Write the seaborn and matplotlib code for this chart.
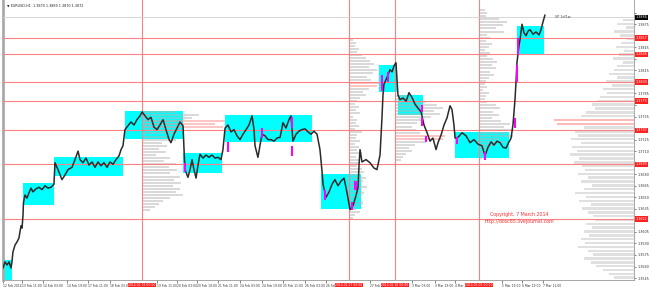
import matplotlib
matplotlib.use("Agg")
import matplotlib.pyplot as plt
import seaborn as sns
import numpy as np
import pandas as pd

# ---------------- data ----------------
hours = [0, 1.4, 2.9, 4.3, 5.7, 6.4, 7.1, 8.6, 10, 11.4, 12.1, 12.9, 13.6, 14.3, 14.6, 15.7, 17.1, 18.6, 20, 21.4,
         23.6, 25.7, 27.9, 30, 32.1, 34.3, 36.4, 37.1, 39.3, 42.1, 44.3, 46.4, 49.3, 51.4, 53.6, 55, 57.1, 59.3, 61.4, 63.6,
         65.7, 67.9, 70, 72.1, 74.3, 76.4, 78.6, 80.7, 82.9, 84.3, 85.7, 87.1, 89.3, 91.4, 93.6, 95.7, 97.9, 99.3, 101.4, 103.6,
         105.7, 107.9, 110, 112.1, 114.3, 116.4, 118.6, 120, 122.1, 124.3, 126.4, 128.6, 129.3, 130, 132.1, 133.6, 135, 136.4, 137.9, 139.3,
         140.7, 142.9, 145, 147.1, 149.3, 151.4, 153.6, 155.7, 157.1, 158.6, 160.7, 162.9, 165, 167.1, 169.3, 171.4, 173.6, 175.7, 177.9, 179.3,
         180, 182.1, 183.6, 185, 187.1, 189.3, 191.4, 193.6, 195.7, 197.9, 200, 202.1, 204.3, 205.7, 207.1, 209.3, 211.4, 213.6, 215.7, 217.9,
         220, 222.1, 224.3, 226.4, 227.9, 228.6, 230.7, 232.9, 235, 237.1, 239.3, 241.4, 243.6, 245.7, 247.9, 250, 252.1, 253.6, 254.3, 255,
         256.4, 259.3, 262.1, 265, 267.1, 269.3, 270.7, 271.4, 272.1, 273.6, 275, 276.4, 277.9, 279.3, 280.7, 281.4, 282.1, 283.6, 285.7, 287.9,
         290, 292.1, 294.3, 296.4, 298.6, 300.7, 302.9, 305, 307.1, 309.3, 310.7, 312.9, 315, 317.1, 319.3, 320.7, 322.1, 322.9, 325, 327.9,
         330.7, 333.6, 336.4, 339.3, 342.1, 344.3, 346.4, 348.6, 350.7, 352.9, 355, 357.1, 359.3, 361.4, 362.9, 364.3, 365.7, 366.4, 367.1, 368.6,
         369.3, 370.7, 372.1, 373.6, 375, 376.4, 378.6, 380.7, 382.9, 384.3, 385.7, 387.1]
prices = [1.3558, 1.3566, 1.3562, 1.3566, 1.3558, 1.3566, 1.3579, 1.3588, 1.3592, 1.3597, 1.3605, 1.3613, 1.3610, 1.3627, 1.3643, 1.3653, 1.3649, 1.3656, 1.3662, 1.3657,
          1.3661, 1.3663, 1.3660, 1.3665, 1.3662, 1.3663, 1.3667, 1.3695, 1.3686, 1.3673, 1.3679, 1.3686, 1.3689, 1.3699, 1.3710, 1.3699, 1.3695, 1.3701, 1.3692, 1.3696,
          1.3689, 1.3696, 1.3691, 1.3695, 1.3689, 1.3696, 1.3693, 1.3699, 1.3704, 1.3712, 1.3717, 1.3738, 1.3743, 1.3748, 1.3744, 1.3751, 1.3756, 1.3761, 1.3756, 1.3751,
          1.3754, 1.3741, 1.3738, 1.3744, 1.3751, 1.3738, 1.3725, 1.3721, 1.3732, 1.3740, 1.3748, 1.3743, 1.3712, 1.3686, 1.3676, 1.3686, 1.3699, 1.3686, 1.3675, 1.3692,
          1.3706, 1.3701, 1.3705, 1.3702, 1.3705, 1.3701, 1.3702, 1.3699, 1.3712, 1.3740, 1.3744, 1.3735, 1.3738, 1.3730, 1.3725, 1.3732, 1.3738, 1.3744, 1.3756, 1.3738,
          1.3717, 1.3702, 1.3718, 1.3732, 1.3730, 1.3725, 1.3725, 1.3723, 1.3727, 1.3728, 1.3747, 1.3740, 1.3751, 1.3756, 1.3723, 1.3732, 1.3736, 1.3738, 1.3739, 1.3735,
          1.3732, 1.3736, 1.3732, 1.3712, 1.3683, 1.3667, 1.3650, 1.3657, 1.3667, 1.3673, 1.3665, 1.3671, 1.3675, 1.3656, 1.3634, 1.3639, 1.3652, 1.3663, 1.3692, 1.3712,
          1.3696, 1.3699, 1.3695, 1.3688, 1.3686, 1.3705, 1.3754, 1.3783, 1.3797, 1.3803, 1.3809, 1.3816, 1.3813, 1.3821, 1.3825, 1.3803, 1.3783, 1.3777, 1.3779, 1.3775,
          1.3786, 1.3780, 1.3771, 1.3766, 1.3761, 1.3744, 1.3734, 1.3723, 1.3727, 1.3712, 1.3721, 1.3731, 1.3744, 1.3753, 1.3769, 1.3764, 1.3744, 1.3727, 1.3728, 1.3734,
          1.3730, 1.3721, 1.3725, 1.3719, 1.3717, 1.3704, 1.3715, 1.3722, 1.3718, 1.3723, 1.3721, 1.3715, 1.3714, 1.3722, 1.3727, 1.3745, 1.3777, 1.3799, 1.3825, 1.3848,
          1.3855, 1.3875, 1.3864, 1.3860, 1.3866, 1.3868, 1.3862, 1.3865, 1.3861, 1.3868, 1.3878, 1.3887]

# cyan zones: start hour, end hour, low price, high price
zone_start = [0, 14.3, 36.4, 87.1, 128.6, 158.6, 227.1, 268.6, 282.1, 322.9, 367.1]
zone_end = [6.4, 36.4, 85.7, 128.6, 156.4, 220.7, 255.7, 281.4, 300.0, 361.4, 386.4]
zone_low = [1.3542, 1.3640, 1.3678, 1.3726, 1.3682, 1.3722, 1.3635, 1.3787, 1.3757, 1.3701, 1.3836]
zone_high = [1.3568, 1.3669, 1.3702, 1.3762, 1.3708, 1.3757, 1.3680, 1.3822, 1.3783, 1.3735, 1.3873]

# magenta highlighted candles: hour, low, high
mag_hour = [130, 160.7, 185, 206.4, 206.4, 230, 252, 249.3, 270.7, 275, 299.3, 299.3, 302.1, 324.3, 344.3, 365.7, 367.1, 367.9]
mag_low = [1.3683, 1.3709, 1.3727, 1.3740, 1.3704, 1.3647, 1.3660, 1.3634, 1.3788, 1.3800, 1.3761, 1.3743, 1.3722, 1.3719, 1.3698, 1.3740, 1.3800, 1.3835]
mag_high = [1.3695, 1.3722, 1.3740, 1.3754, 1.3717, 1.3660, 1.3671, 1.3644, 1.3809, 1.3813, 1.3770, 1.3753, 1.3730, 1.3728, 1.3709, 1.3753, 1.3822, 1.3857]

# horizontal levels and vertical session lines
level_prices = [1.3857, 1.3836, 1.3800, 1.3775, 1.3737, 1.3693, 1.3622]
vline_hours = [99.3, 247.1, 280, 340]
vline_labels = ["2014.02.19 00:00", "2014.02.27 00:00", "2014.02.28 00:00", "2014.03.05 00:00"]

# volume profiles (anchor hour, top price, lengths in hours, red indices)
profA_lengths = [25, 41, 36, 59, 52, 58, 30, 26, 20, 24, 14, 18, 12, 17, 10, 20, 16, 24, 19, 25, 20, 27, 23, 28, 22, 27, 24, 29, 20, 15, 12, 9, 6]
profC_lengths = [3, 5, 4, 7, 6, 9, 12, 15, 18, 14, 20, 17, 13, 16, 22, 20, 14, 10, 12, 8,
                 6, 4, 7, 5, 8, 3, 6, 5, 7, 4, 9, 6, 5, 8, 4, 7, 6, 9, 5, 7, 8, 6,
                 9, 11, 8, 12, 10, 7, 13, 9, 11, 8, 6, 10, 7, 5, 8, 4, 3]
profD_lengths = [8, 14, 22, 30, 34, 28, 32, 26, 20, 16, 12, 15, 18, 36, 34, 22, 14, 10, 12, 8, 6, 4]
profE_lengths = [4, 6, 5, 14, 20, 17, 12, 18, 6, 8, 5, 9, 7, 4, 8, 6, 10, 13, 9, 12, 8, 11, 7, 5, 4, 6, 3, 7, 5, 4, 6,
                 12, 15, 10, 14, 9, 16, 22, 18, 25, 20, 24, 15, 19, 12, 8, 5, 3, 2]
profF_lengths = [8, 12, 6, 14, 10, 5, 9, 13, 7, 11, 15, 8, 12, 14, 18, 12, 20, 16, 22, 19, 24,
                 26, 30, 28, 34, 38, 57, 55, 36, 42, 40, 45, 38, 44, 41, 46, 39, 43, 37,
                 35, 40, 33, 38, 30, 36, 42, 34, 39, 31, 37, 33, 29,
                 28, 34, 30, 36, 32, 38, 35, 40, 33, 29, 36, 31, 27, 22, 18, 14]
profiles = [  # anchor, top, step, lengths, red idx
    (99.3, 1.3761, 0.0004, profA_lengths, [3, 4, 5]),
    (247.1, 1.3855, 0.0004, profC_lengths, [14, 15]),
    (280.0, 1.3782, 0.0004, profD_lengths, [13, 14]),
    (340.0, 1.38935, 0.0004, profE_lengths, []),
]
profF = (1.38805, 0.0005, profF_lengths, [26, 27])

ytick_vals = [1.3545, 1.3560, 1.3575, 1.3590, 1.3605, 1.3620, 1.3635, 1.3650, 1.3665, 1.3680, 1.3695, 1.3710,
              1.3725, 1.3740, 1.3755, 1.3770, 1.3785, 1.3800, 1.3815, 1.3830, 1.3845, 1.3860, 1.3875, 1.3890]
xtick_hours = [0, 13.6, 28.6, 45.7, 60.7, 76.4, 110, 124.3, 138.6, 153.6, 169.3, 185, 200, 216, 230.5,
               262.1, 292.1, 308.5, 323, 356.4, 370.7, 385.7]
xtick_labels = ["12 Feb 2014", "13 Feb 11:00", "14 Feb 03:00", "14 Feb 19:00", "17 Feb 11:00", "18 Feb 03:00",
                "19 Feb 11:00", "20 Feb 03:00", "20 Feb 19:00", "21 Feb 11:00", "24 Feb 03:00", "24 Feb 19:00",
                "25 Feb 11:00", "26 Feb 03:00", "26 Feb", "27 Feb", "3 Mar 03:00", "3 Mar 19:00",
                "4 Mar", "5 Mar 19:00", "6 Mar 19:00", "7 Mar 11:00"]
bid_price = 1.3884

# ---------------- figure ----------------
sns.set_theme(style="white")
plt.rcParams['font.family'] = ['DejaVu Sans']
FS = 2.4
FSX = 2.2
fig = plt.figure(figsize=(6.5, 2.87), dpi=100)
fig.patch.set_facecolor("white")
ax = fig.add_axes([3 / 650, 7 / 287, 631 / 650, 280 / 287])
XMAX = 450.7
ax.set_xlim(0, XMAX)
ax.set_ylim(1.35425, 1.39065)

# zones
for x0, x1, lo, hi in zip(zone_start, zone_end, zone_low, zone_high):
    ax.add_patch(plt.Rectangle((x0, lo), x1 - x0, hi - lo, facecolor="#00ffff", edgecolor="none", zorder=1))

# volume profiles
for anchor, top, step, lens, reds in profiles:
    lv = [top - i * step for i in range(len(lens))]
    cols = ["#ff8c8c" if i in reds else "#b4b4b4" for i in range(len(lens))]
    ax.barh(lv, lens, left=anchor, height=step * 0.65, color=cols, alpha=0.5, linewidth=0, zorder=2)
top, step, lens, reds = profF
lv = [top - i * step for i in range(len(lens))]
cols = ["#ff8c8c" if i in reds else "#cccccc" for i in range(len(lens))]
ax.barh(lv, lens, left=[XMAX - l for l in lens], height=step * 0.65, color=cols, alpha=0.6, linewidth=0, zorder=2)

# levels
for p in level_prices:
    ax.axhline(p, color="#ff8080", lw=0.8, zorder=3)
for h in vline_hours:
    ax.axvline(h, color="#ff8080", lw=0.8, zorder=3)
ax.axhline(bid_price, color="#d0d0d0", lw=0.6, zorder=3)

# price line
df = pd.DataFrame({"hour": hours, "price": prices})
sns.lineplot(data=df, x="hour", y="price", sort=False, estimator=None, color="#2a2a2a", lw=1.1, ax=ax, zorder=5)

# magenta candles
ax.bar(mag_hour, [h - l for h, l in zip(mag_high, mag_low)], bottom=mag_low, width=2.0,
       color="#ff00ff", linewidth=0, zorder=6)

# axes styling
ax.yaxis.tick_right()
ax.set_yticks(ytick_vals)
covered = [p for p in level_prices] + [bid_price]
ylabs = ["" if min(abs(v - c) for c in covered) < 0.0006 else f"{v:.4f}" for v in ytick_vals]
ax.set_yticklabels(ylabs, fontsize=FS, color="#333333")
ax.set_xticks(xtick_hours)
ax.set_xticklabels(xtick_labels, fontsize=FSX, color="#333333", ha="left")
ax.tick_params(axis="y", length=1.5, width=0.4, pad=1.0, right=True, left=False)
ax.tick_params(axis="x", length=2, width=0.4, pad=0.8, bottom=True)
ax.set_xlabel("")
ax.set_ylabel("")
ax.spines["top"].set_visible(False)
ax.spines["right"].set_color("#999999")
ax.spines["bottom"].set_color("#999999")
ax.spines["right"].set_linewidth(0.6)
ax.spines["bottom"].set_linewidth(0.6)
ax.spines["left"].set_color("#aaaaaa")
ax.spines["left"].set_linewidth(2.0)

ytr = ax.get_yaxis_transform()
xtr = ax.get_xaxis_transform()
for p in level_prices:
    ax.text(1.003, p, f"{p:.4f}", transform=ytr, fontsize=FS, color="white", va="center", ha="left",
            bbox=dict(facecolor="#ff2020", edgecolor="none", pad=0.5), zorder=10, clip_on=False)
ax.text(1.003, bid_price, f"{bid_price:.4f}", transform=ytr, fontsize=FS, color="white", va="center", ha="left",
        bbox=dict(facecolor="black", edgecolor="none", pad=0.5), zorder=10, clip_on=False)
for h, lab in zip(vline_hours, vline_labels):
    ax.text(h, -0.011, lab, transform=xtr, fontsize=FSX, color="white", va="top", ha="center",
            bbox=dict(facecolor="#ff2020", edgecolor="none", pad=0.4), zorder=10, clip_on=False)

ax.text(0.006, 0.988, "\u25BC EURUSD,H1  1.3870 1.3889 1.3870 1.3872", transform=ax.transAxes,
        fontsize=FS, color="#222222", va="top", ha="left")
ax.text(0.875, 0.945, "VP 1d/1w", transform=ax.transAxes, fontsize=FS, color="#444444", va="top", ha="left")
ax.text(347.9, 1.3627, "Copyright, 7 March 2014", fontsize=3.4, color="#ff3030", va="center", ha="left", zorder=8)
ax.text(344.3, 1.3619, "http://dosc85.livejournal.com", fontsize=3.4, color="#ff3030", va="center", ha="left", zorder=8)

fig.savefig("out.png", dpi=100, facecolor="white")
